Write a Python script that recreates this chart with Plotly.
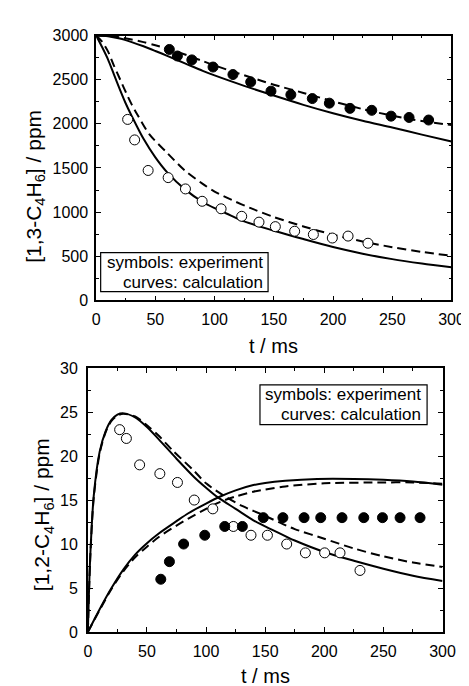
import plotly.graph_objects as go

W, H = 469, 686

# ---------------- Top panel: [1,3-C4H6] ----------------
t_exp_filled_13 = [61.8, 68.6, 80.8, 98.7, 115.5, 130.5, 147.6, 164.4, 182.5, 196.9, 214.3, 232.7, 249.0, 264.2, 280.7]
c_exp_filled_13 = [2842, 2768, 2724, 2643, 2558, 2474, 2370, 2330, 2286, 2234, 2175, 2153, 2087, 2072, 2043]
t_exp_open_13 = [26.6, 32.5, 43.9, 60.8, 75.4, 89.5, 105.5, 122.9, 137.5, 151.3, 167.6, 183.4, 199.4, 212.7, 229.5]
c_exp_open_13 = [2050, 1818, 1472, 1391, 1263, 1123, 1038, 953, 887, 836, 784, 747, 707, 729, 648]

t_calc_slow_solid_13 = [0, 10, 20, 30, 40, 50, 60, 75, 90, 100, 125, 150, 175, 200, 225, 250, 275, 300]
c_calc_slow_solid_13 = [3000, 2992, 2965, 2925, 2878, 2825, 2770, 2685, 2600, 2548, 2430, 2320, 2215, 2120, 2035, 1958, 1878, 1800]
t_calc_slow_dash_13 = [0, 10, 20, 30, 40, 50, 60, 75, 90, 100, 110, 125, 140, 150, 175, 200, 225, 250, 275, 300]
c_calc_slow_dash_13 = [3000, 2995, 2980, 2955, 2925, 2890, 2850, 2785, 2710, 2662, 2615, 2550, 2485, 2443, 2350, 2255, 2167, 2092, 2032, 1986]
t_calc_fast_solid_13 = [0, 5, 10, 15, 20, 25, 30, 40, 50, 60, 75, 90, 100, 110, 125, 150, 175, 200, 225, 250, 275, 300]
c_calc_fast_solid_13 = [3000, 2870, 2730, 2560, 2390, 2230, 2090, 1830, 1620, 1450, 1258, 1115, 1045, 985, 895, 790, 695, 605, 530, 468, 418, 375]
t_calc_fast_dash_13 = [0, 5, 10, 15, 20, 25, 30, 35, 45, 60, 75, 90, 100, 115, 130, 150, 175, 200, 225, 250, 275, 300]
c_calc_fast_dash_13 = [3000, 2930, 2820, 2660, 2510, 2360, 2220, 2100, 1880, 1670, 1470, 1320, 1233, 1135, 1048, 945, 838, 745, 668, 603, 550, 505]

# ---------------- Bottom panel: [1,2-C4H6] ----------------
t_exp_open_12 = [26.9, 32.6, 43.8, 60.9, 75.8, 90.0, 105.7, 123.1, 138.0, 151.9, 168.2, 184.0, 200.3, 213.3, 230.2]
c_exp_open_12 = [23, 22, 19, 18, 17, 15, 14, 12, 11, 11, 10, 9, 9, 9, 7]
t_exp_filled_12 = [61.7, 69.0, 81.0, 98.9, 115.8, 130.7, 148.4, 165.0, 182.9, 197.0, 215.0, 233.4, 249.2, 264.1, 281.0]
c_exp_filled_12 = [6, 8, 10, 11, 12, 12, 13, 13, 13, 13, 13, 13, 13, 13, 13]

t_calc_peak_solid_12 = [0, 2, 5, 10, 15, 20, 25, 30, 40, 50, 60, 75, 90, 100, 110, 125, 140, 150, 167, 175, 200, 225, 250, 275, 300]
c_calc_peak_solid_12 = [0, 8.5, 15.5, 20.5, 22.8, 24.1, 24.7, 24.85, 24.4, 23.3, 21.9, 19.7, 17.6, 16.4, 15.3, 14.0, 12.7, 12.0, 10.9, 10.4, 9.1, 8.1, 7.2, 6.4, 5.8]
t_calc_peak_dash_12 = [0, 2, 5, 10, 15, 20, 25, 30, 40, 50, 60, 72, 90, 100, 115, 131, 150, 167, 175, 200, 225, 250, 275, 300]
c_calc_peak_dash_12 = [0, 8.3, 15.3, 20.3, 22.7, 24.0, 24.6, 24.8, 24.5, 23.5, 22.3, 20.6, 18.3, 16.9, 15.5, 14.3, 13.2, 12.15, 11.7, 10.6, 9.5, 8.6, 7.9, 7.4]
t_calc_rise_solid_12 = [0, 10, 20, 30, 40, 50, 60, 75, 85, 100, 112, 125, 140, 150, 167, 194, 225, 250, 275, 300]
c_calc_rise_solid_12 = [0, 2.6, 5.0, 7.1, 8.8, 10.1, 11.2, 12.6, 13.5, 14.6, 15.4, 16.1, 16.7, 16.95, 17.2, 17.4, 17.4, 17.3, 17.1, 16.75]
t_calc_rise_dash_12 = [0, 10, 20, 30, 40, 50, 60, 75, 85, 100, 112, 125, 140, 150, 167, 200, 250, 275, 300]
c_calc_rise_dash_12 = [0, 2.5, 4.9, 6.9, 8.5, 9.7, 10.8, 12.1, 12.9, 14.0, 14.8, 15.4, 15.95, 16.2, 16.55, 16.9, 17.0, 17.0, 16.85]

x_ticks = [0, 50, 100, 150, 200, 250, 300]
y_ticks_13 = [0, 500, 1000, 1500, 2000, 2500, 3000]
y_ticks_12 = [0, 5, 10, 15, 20, 25, 30]

legend_line1 = "symbols: experiment"
legend_line2 = "curves: calculation"
x_title = "t / ms"
y_title_13 = "[1,3-C<sub>4</sub>H<sub>6</sub>] / ppm"
y_title_12 = "[1,2-C<sub>4</sub>H<sub>6</sub>] / ppm"

FONT = "Arial, Liberation Sans, sans-serif"
BLACK = "#000000"

fig = go.Figure()

def curve(x, y, dash, xa, ya):
    fig.add_trace(go.Scatter(x=x, y=y, mode="lines", xaxis=xa, yaxis=ya,
                             line=dict(color=BLACK, width=2, dash=dash, shape="spline", smoothing=0.8),
                             cliponaxis=True, hoverinfo="skip"))

def points(x, y, filled, xa, ya):
    fig.add_trace(go.Scatter(x=x, y=y, mode="markers", xaxis=xa, yaxis=ya,
                             marker=dict(symbol="circle", size=10,
                                         color=BLACK if filled else "white",
                                         line=dict(color=BLACK, width=1)),
                             cliponaxis=False, hoverinfo="skip"))

DASH = "9px,5px"
# top
curve(t_calc_slow_solid_13, c_calc_slow_solid_13, "solid", "x", "y")
curve(t_calc_slow_dash_13, c_calc_slow_dash_13, DASH, "x", "y")
curve(t_calc_fast_solid_13, c_calc_fast_solid_13, "solid", "x", "y")
curve(t_calc_fast_dash_13, c_calc_fast_dash_13, DASH, "x", "y")
points(t_exp_filled_13, c_exp_filled_13, True, "x", "y")
points(t_exp_open_13, c_exp_open_13, False, "x", "y")
# bottom
curve(t_calc_peak_solid_12, c_calc_peak_solid_12, "solid", "x2", "y2")
curve(t_calc_peak_dash_12, c_calc_peak_dash_12, DASH, "x2", "y2")
curve(t_calc_rise_solid_12, c_calc_rise_solid_12, "solid", "x2", "y2")
curve(t_calc_rise_dash_12, c_calc_rise_dash_12, DASH, "x2", "y2")
points(t_exp_open_12, c_exp_open_12, False, "x2", "y2")
points(t_exp_filled_12, c_exp_filled_12, True, "x2", "y2")

def px_x(p):
    return p / W

def px_y(p):
    return 1 - p / H

top_x = [87.3, 456.0]
top_y = [20.0, 291.7]
bot_x = [78.7, 446.7]
bot_y = [361.0, 631.7]

axis_common = dict(showline=True, linecolor=BLACK, linewidth=1.5, mirror="allticks",
                   ticks="inside", ticklen=5, tickwidth=1.2, tickcolor=BLACK,
                   showgrid=False, zeroline=False, fixedrange=True,
                   tickfont=dict(family=FONT, size=16, color=BLACK))

fig.update_layout(
    width=W, height=H, margin=dict(l=0, r=0, t=0, b=0),
    paper_bgcolor="white", plot_bgcolor="white", showlegend=False,
    font=dict(family=FONT, color=BLACK),
    xaxis=dict(domain=[px_x(top_x[0]), px_x(top_x[1])], anchor="y", range=[0, 300],
               tickvals=x_ticks, ticklabelstandoff=4,
               minor=dict(ticks="inside", ticklen=3, dtick=25, tick0=0, tickcolor=BLACK),
               **axis_common),
    yaxis=dict(domain=[px_y(top_y[1]), px_y(top_y[0])], anchor="x", range=[0, 3000],
               tickvals=y_ticks_13, ticklabelstandoff=3,
               minor=dict(ticks="inside", ticklen=3, dtick=250, tick0=0, tickcolor=BLACK),
               **axis_common),
    xaxis2=dict(domain=[px_x(bot_x[0]), px_x(bot_x[1])], anchor="y2", range=[0, 300],
                tickvals=x_ticks, ticklabelstandoff=4,
                minor=dict(ticks="inside", ticklen=3, dtick=25, tick0=0, tickcolor=BLACK),
                **axis_common),
    yaxis2=dict(domain=[px_y(bot_y[1]), px_y(bot_y[0])], anchor="x2", range=[0, 30],
                tickvals=y_ticks_12, ticklabelstandoff=5,
                minor=dict(ticks="inside", ticklen=3, dtick=2.5, tick0=0, tickcolor=BLACK),
                **axis_common),
)

ann = []
def text(x, y, s, size, xanchor="center", angle=0):
    ann.append(dict(x=px_x(x), y=px_y(y), xref="paper", yref="paper", text=s, showarrow=False,
                    xanchor=xanchor, yanchor="middle", textangle=angle,
                    font=dict(family=FONT, size=size, color=BLACK)))

# axis titles
text((top_x[0] + top_x[1]) / 2, 338, x_title, 20)
text((bot_x[0] + bot_x[1]) / 2, 677, x_title, 20)
text(23, 175, y_title_13, 21, angle=-90)
text(33, 511, y_title_12, 21, angle=-90)

# legend boxes (text)
text(262, 253, legend_line1, 17, xanchor="right")
text(262, 273, legend_line2, 17, xanchor="right")
text(426, 388, legend_line1, 17, xanchor="right")
text(426, 409, legend_line2, 17, xanchor="right")

fig.update_layout(annotations=ann)

shapes = [
    dict(type="rect", xref="paper", yref="paper", x0=px_x(92), x1=px_x(265.7), y0=px_y(282.7), y1=px_y(242.7),
         line=dict(color=BLACK, width=1.2), fillcolor="white", layer="above"),
    dict(type="rect", xref="paper", yref="paper", x0=px_x(257.3), x1=px_x(430.7), y0=px_y(419), y1=px_y(378.3),
         line=dict(color=BLACK, width=1.2), fillcolor="rgba(0,0,0,0)", layer="above"),
]
fig.update_layout(shapes=shapes)

fig.write_html("out.html")
